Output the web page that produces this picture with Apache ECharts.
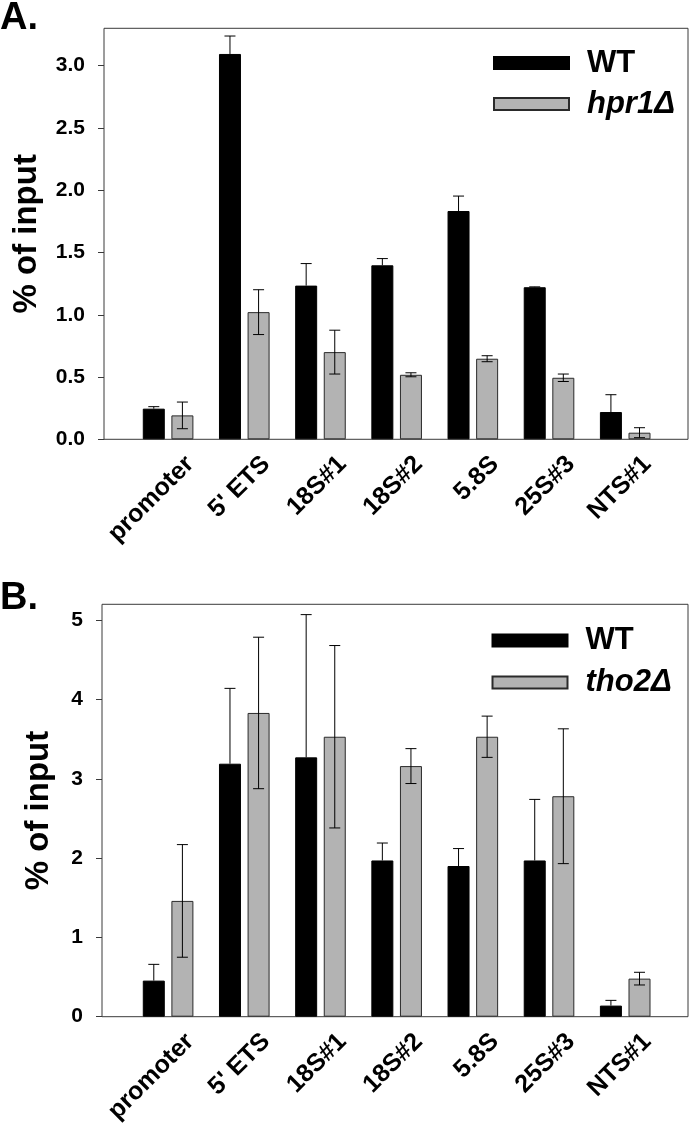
<!DOCTYPE html>
<html><head><meta charset="utf-8">
<script src="https://cdn.jsdelivr.net/npm/echarts@6/dist/echarts.min.js"></script>
<style>html,body{margin:0;padding:0;background:#fff}#c{width:693px;height:1129px}</style>
</head><body><div id="c"></div>
<script>
const categories = ['promoter', "5' ETS", '18S#1', '18S#2', '5.8S', '25S#3', 'NTS#1'];
// Panel A
const aWT      = [0.246, 3.094, 1.234, 1.397, 1.833, 1.221, 0.219];
const aWTErr   = [0.016, 0.144, 0.177, 0.054, 0.120, 0.003, 0.139];
const aHpr     = [0.192, 1.021, 0.700, 0.518, 0.647, 0.494, 0.053];
const aHprErr  = [0.107, 0.180, 0.176, 0.016, 0.024, 0.030, 0.040];
const aTicks   = [0, 0.5, 1.0, 1.5, 2.0, 2.5, 3.0];
// Panel B
const bWT      = [0.455, 3.19, 3.27, 1.97, 1.90, 1.97, 0.14];
const bWTErr   = [0.205, 0.95, 1.80, 0.22, 0.22, 0.77, 0.066];
const bTho     = [1.46, 3.83, 3.53, 3.16, 3.53, 2.78, 0.48];
const bThoErr  = [0.71, 0.955, 1.15, 0.22, 0.26, 0.85, 0.08];
const bTicks   = [0, 1, 2, 3, 4, 5];

const FONT = "'Liberation Sans', Arial, Helvetica, sans-serif";
const GREY = '#b3b3b3';
const LINE = '#3a3a3a';

// side: -1 = left bar of the pair (WT, only the upper whisker is visible), +1 = right bar
function errSeries(name, vals, errs, xIdx, yIdx, side) {
  return {
    type: 'custom', name: name + '_err', xAxisIndex: xIdx, yAxisIndex: yIdx,
    silent: true, z: 5,
    data: vals.map((v, i) => [i, v, errs[i]]),
    encode: { x: 0, y: 1 },
    renderItem: function (params, api) {
      const i = api.value(0), v = api.value(1), e = api.value(2);
      const top = api.coord([i, v + e]);
      const mid = api.coord([i, v]);
      const bot = api.coord([i, v - e]);
      const x = top[0] + side * 14.3;
      const cap = 5.5;
      const st = { stroke: '#000', lineWidth: 1 };
      const children = [
        { type: 'line', shape: { x1: x - cap, y1: top[1], x2: x + cap, y2: top[1] }, style: st }
      ];
      if (side < 0) {
        children.push({ type: 'line', shape: { x1: x, y1: top[1], x2: x, y2: mid[1] }, style: st });
      } else {
        children.push({ type: 'line', shape: { x1: x, y1: top[1], x2: x, y2: bot[1] }, style: st });
        children.push({ type: 'line', shape: { x1: x - cap, y1: bot[1], x2: x + cap, y2: bot[1] }, style: st });
      }
      return { type: 'group', children: children };
    }
  };
}

function barSeries(name, vals, xIdx, yIdx, color) {
  return {
    type: 'bar', name: name, xAxisIndex: xIdx, yAxisIndex: yIdx,
    data: vals, barWidth: 22, barGap: '30%',
    itemStyle: { color: color, borderColor: color === GREY ? '#2a2a2a' : '#000', borderWidth: 1 },
    emphasis: { disabled: true }
  };
}

const legendText = {
  fontFamily: FONT, fontSize: 31, fontWeight: 'bold', color: '#000', lineHeight: 30,
  padding: [0, 0, 0, 13],
  rich: {
    n: { fontFamily: FONT, fontSize: 31, fontWeight: 'bold', color: '#000' },
    i: { fontFamily: FONT, fontSize: 31, fontWeight: 'bold', fontStyle: 'italic', color: '#000' }
  }
};
const legendFmt = n => n.trim() === 'WT' ? '{n|WT}' : '{i|' + n + '}';

function yAxisDef(gridIdx, max, ticks, offset, nameGap, digits) {
  return {
    type: 'value', gridIndex: gridIdx, min: 0, max: max, offset: offset,
    name: '% of input', nameLocation: 'middle', nameGap: nameGap,
    nameTextStyle: { fontFamily: FONT, fontSize: 33, fontWeight: 'bold', color: '#000' },
    axisLine: { show: false },
    axisTick: { show: true, inside: false, length: 6, customValues: ticks, lineStyle: { color: LINE, width: 1 } },
    axisLabel: { customValues: ticks, margin: 19, fontFamily: FONT, fontSize: 21, fontWeight: 'bold', color: '#000',
      formatter: v => v.toFixed(digits) },
    splitLine: { show: false }
  };
}
function xAxisData(gridIdx) {
  return {
    type: 'category', gridIndex: gridIdx, data: categories,
    axisLine: { show: false }, axisTick: { show: false }, axisLabel: { show: false }
  };
}
function xAxisLabels(gridIdx) {
  return {
    type: 'category', gridIndex: gridIdx, data: categories,
    axisLine: { show: false }, axisTick: { show: false },
    axisLabel: { rotate: 45, interval: 0, margin: 21, fontFamily: FONT, fontSize: 25, fontWeight: 'bold', color: '#000' }
  };
}
const hiddenVal = g => ({ type: 'value', gridIndex: g, show: false });

const chart = echarts.init(document.getElementById('c'), null, { renderer: 'canvas' });
chart.setOption({
  animation: false,
  backgroundColor: '#fff',
  title: [
    { text: 'A.', left: 0, top: 0, textStyle: { fontFamily: FONT, fontSize: 38, fontWeight: 'bold', color: '#000' }, padding: 0 },
    { text: 'B.', left: 0, top: 580, textStyle: { fontFamily: FONT, fontSize: 38, fontWeight: 'bold', color: '#000' }, padding: 0 }
  ],
  legend: [
    { data: ['WT', 'hpr1Δ'], orient: 'vertical', left: 493, top: 47.5, itemWidth: 75, itemHeight: 12, itemGap: 10,
      icon: 'rect', padding: 0, textStyle: legendText, formatter: legendFmt, selectedMode: false },
    { data: ['WT ', 'tho2Δ'], orient: 'vertical', left: 491.5, top: 625, itemWidth: 75, itemHeight: 12, itemGap: 11,
      icon: 'rect', padding: 0, textStyle: legendText, formatter: legendFmt, selectedMode: false }
  ],
  grid: [
    { left: 104, right: 5, top: 28.3, bottom: 689.7, show: true, borderColor: LINE, borderWidth: 1, backgroundColor: 'transparent' },
    { left: 130, right: 29.7, top: 28.3, bottom: 689.7 },
    { left: 102, right: 5, top: 604.3, bottom: 112.3, show: true, borderColor: LINE, borderWidth: 1, backgroundColor: 'transparent' },
    { left: 130, right: 29.7, top: 604.3, bottom: 112.3 },
    { left: 152, right: 7.7, top: 28.3, bottom: 689.7 },
    { left: 152, right: 7.7, top: 604.3, bottom: 112.3 }
  ],
  xAxis: [
    hiddenVal(0),
    xAxisData(1),
    hiddenVal(2),
    xAxisData(3),
    xAxisLabels(4),
    xAxisLabels(5)
  ],
  yAxis: [
    hiddenVal(0),
    yAxisDef(1, 3.3, aTicks, 26, 61, 1),
    hiddenVal(2),
    yAxisDef(3, 5.2, bTicks, 28, 47, 0),
    hiddenVal(4),
    hiddenVal(5)
  ],
  series: [
    barSeries('WT', aWT, 1, 1, '#000'),
    barSeries('hpr1Δ', aHpr, 1, 1, GREY),
    errSeries('WT', aWT, aWTErr, 1, 1, -1),
    errSeries('hpr1Δ', aHpr, aHprErr, 1, 1, 1),
    barSeries('WT ', bWT, 3, 3, '#000'),
    barSeries('tho2Δ', bTho, 3, 3, GREY),
    errSeries('WT ', bWT, bWTErr, 3, 3, -1),
    errSeries('tho2Δ', bTho, bThoErr, 3, 3, 1)
  ]
});
</script></body></html>
